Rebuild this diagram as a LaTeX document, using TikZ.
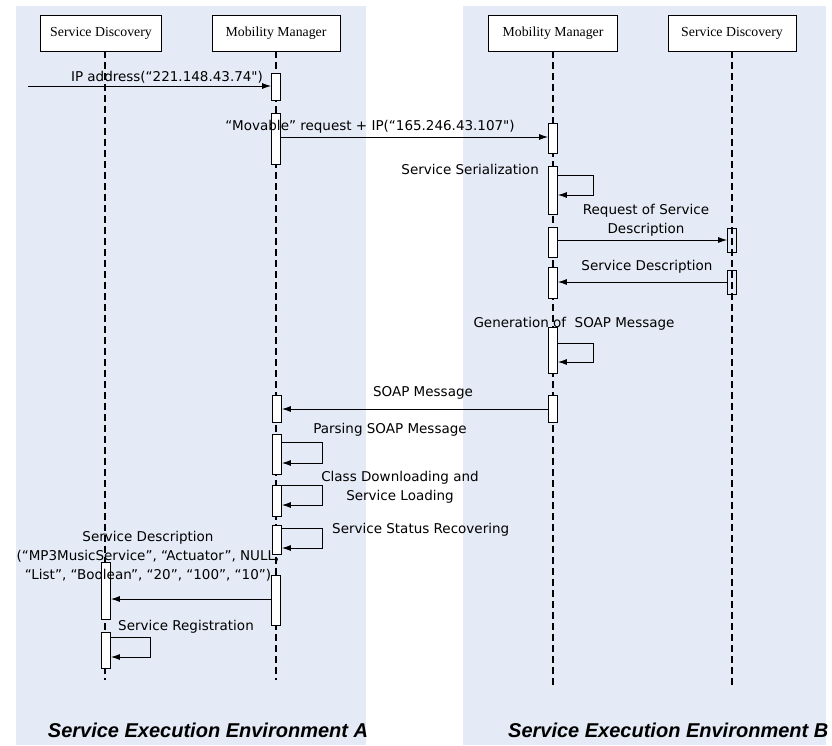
\documentclass[tikz,border=0pt]{standalone}
\usepackage{fontspec}
\setmainfont{Liberation Serif}
\newfontfamily\msgfont{DejaVu Sans}
\newfontfamily\envfont{Liberation Sans}
\usetikzlibrary{arrows.meta}

\begin{document}
\begin{tikzpicture}[x=1pt,y=-1pt,
  head/.style={draw, line width=0.8pt, fill=white, minimum width=128pt, minimum height=36pt, inner sep=0, font=\fontsize{13.8pt}{14pt}\selectfont},
  life/.style={line width=1.6pt, dash pattern=on 7pt off 4pt},
  act/.style={draw, line width=0.8pt, fill=white, minimum width=9pt, inner sep=0, anchor=north},
  msg/.style={line width=0.9pt, -{Latex[length=9pt,width=6pt]}},
  lbl/.style={inner sep=0, align=center, font=\msgfont\fontsize{13.5pt}{19pt}\selectfont},
  envtitle/.style={inner sep=0, font=\envfont\fontsize{20pt}{20pt}\bfseries\itshape\selectfont}]
\definecolor{custcol_e5_eb_f6}{RGB}{229, 235, 246}
\useasboundingbox (0,0) rectangle (832,745);

% the two execution environments
\fill [custcol_e5_eb_f6] (16,6) rectangle (366,745);
\fill [custcol_e5_eb_f6] (463,6) rectangle (826,745);
\node[envtitle] (envA) at (208,730) {Service Execution Environment A};
\node[envtitle, anchor=west] (envB) at (508,730) {Service Execution Environment B};

% objects and lifelines
\node[head, minimum width=121pt] (sdA) at (101,33) {Service Discovery};
\node[head] (mmA) at (276,33) {Mobility Manager};
\node[head, minimum width=129pt] (mmB) at (553,33) {Mobility Manager};
\node[head] (sdB) at (732,33) {Service Discovery};
\coordinate (sdAend) at (105,680);
\coordinate (mmAend) at (276,680);
\coordinate (mmBend) at (553,685);
\coordinate (sdBend) at (732,685);
\draw [life] (sdAend |- sdA.south) -- (sdAend);
\draw [life] (mmA.south) -- (mmAend);
\draw [life] (mmB.south) -- (mmBend);
\draw [life] (sdB.south) -- (sdBend);

% activations, Mobility Manager A
\node[act, minimum height=27pt] (a1) at (276,73) {};
\node[act, minimum height=51pt] (a2) at (276,113) {};
\node[act, minimum height=27pt] (a3) at (277,395) {};
\node[act, minimum height=40pt] (a4) at (277,434) {};
\node[act, minimum height=31pt] (a5) at (277,485) {};
\node[act, minimum height=29pt] (a6) at (277,525) {};
\node[act, minimum height=50pt] (a7) at (276,575) {};
% activations, Mobility Manager B
\node[act, minimum height=30pt] (b1) at (553,123) {};
\node[act, minimum height=48pt] (b2) at (553,166) {};
\node[act, minimum height=30pt] (b3) at (553,227) {};
\node[act, minimum height=31pt] (b4) at (553,267) {};
\node[act, minimum height=46pt] (b5) at (553,327) {};
\node[act, minimum height=27pt] (b6) at (553,395) {};
% activations, Service Discovery B and A
\node[act, fill=none, minimum height=24pt] (c1) at (732,228) {};
\node[act, fill=none, minimum height=24pt] (c2) at (732,270) {};
\node[act, minimum height=57pt] (d1) at (106,562) {};
\node[act, minimum height=36pt] (d2) at (106,632) {};

% messages
\coordinate (src) at (28,86);
\draw [msg] (src) -- (a1.west |- src);
\node[lbl] (l1) at (167,77) {IP address(“221.148.43.74")};

\draw [msg] (a2.east |- 0,137) -- (b1.west |- 0,137);
\node[lbl] (l2) at (370,127) {“Movable” request + IP(“165.246.43.107")};

\draw [msg] (b2.east |- 0,175) -- ++(36,0) -- ++(0,20) -- (b2.east |- 0,195);
\node[lbl, anchor=east] (l3) at (539,169) {Service Serialization};

\draw [msg] (b3.east |- 0,240) -- (c1.west |- 0,240);
\node[lbl] (l4) at (646,220) {Request of Service\\Description};

\draw [msg] (c2.west |- 0,282) -- (b4.east |- 0,282);
\node[lbl] (l5) at (647,267) {Service Description};

\draw [msg] (b5.east |- 0,343) -- ++(36,0) -- ++(0,19) -- (b5.east |- 0,362);
\node[lbl] (l6) at (574,324) {Generation of\ \ SOAP Message};

\draw [msg] (b6.west |- 0,409) -- (a3.east |- 0,409);
\node[lbl] (l7) at (423,393) {SOAP Message};

\draw [msg] (a4.east |- 0,442) -- (322,442) -- (322,463) -- (a4.east |- 0,463);
\node[lbl] (l8) at (390,430) {Parsing SOAP Message};

\draw [msg] (a5.east |- 0,485) -- (322,485) -- (322,505) -- (a5.east |- 0,505);
\node[lbl] (l9) at (400,487) {Class Downloading and\\Service Loading};

\draw [msg] (a6.east |- 0,528) -- (322,528) -- (322,548) -- (a6.east |- 0,548);
\node[lbl, anchor=west] (l10) at (332,530) {Service Status Recovering};

\draw [msg] (a7.west |- 0,599) -- (d1.east |- 0,599);
\node[lbl] (l11) at (148,556) {Service Description\\(“MP3MusicService”, “Actuator”, NULL,\\“List”, “Boolean”, “20”, “100”, “10”)};

\draw [msg] (d2.east |- 0,637) -- (150,637) -- (150,657) -- (d2.east |- 0,657);
\node[lbl] (l12) at (186,627) {Service Registration};
\end{tikzpicture}
\end{document}
